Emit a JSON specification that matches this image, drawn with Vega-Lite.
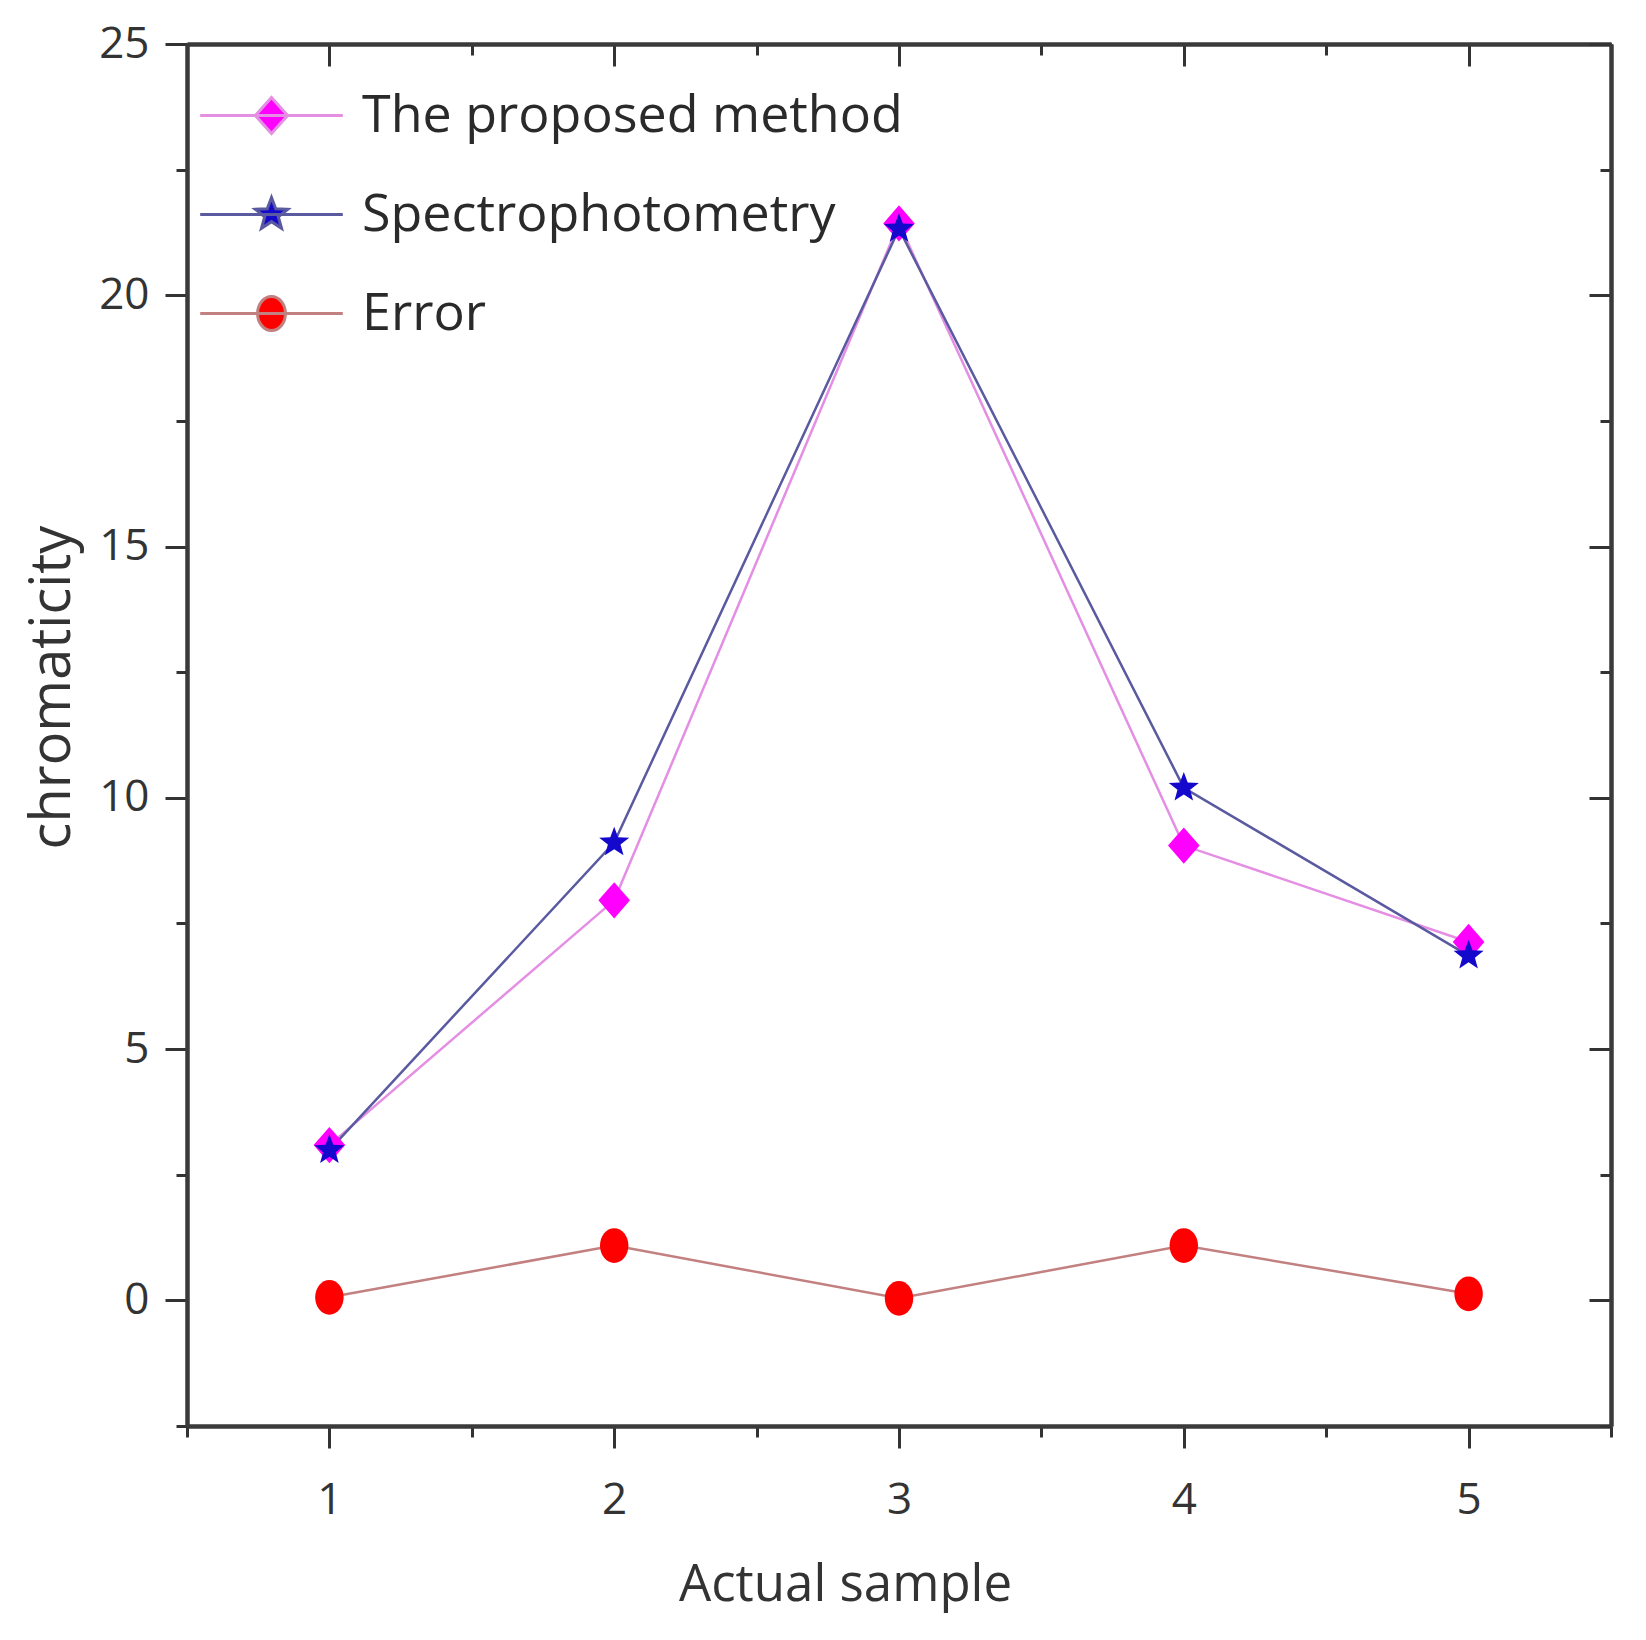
{
  "$schema": "https://vega.github.io/schema/vega-lite/v6.json",
  "description": "Chromaticity of five actual samples: proposed method vs spectrophotometry, with error",
  "width": 1424,
  "height": 1382,
  "autosize": {"type": "none"},
  "padding": {"left": 187, "top": 44, "right": 35, "bottom": 214},
  "background": "white",
  "config": {
    "view": {"stroke": null},
    "axis": {
      "grid": false,
      "domainColor": "#3a3a3a",
      "domainWidth": 4,
      "tickColor": "#333333",
      "tickWidth": 3,
      "labelFont": "Open Sans",
      "labelColor": "#333333",
      "titleFont": "Open Sans",
      "titleColor": "#333333",
      "titleFontWeight": "normal"
    }
  },
  "data": {
    "values": [
      {"series": "The proposed method", "sample": 1, "value": 3.09},
      {"series": "The proposed method", "sample": 2, "value": 7.96},
      {"series": "The proposed method", "sample": 3, "value": 21.43},
      {"series": "The proposed method", "sample": 4, "value": 9.05},
      {"series": "The proposed method", "sample": 5, "value": 7.13},
      {"series": "Spectrophotometry", "sample": 1, "value": 2.99},
      {"series": "Spectrophotometry", "sample": 2, "value": 9.11},
      {"series": "Spectrophotometry", "sample": 3, "value": 21.32},
      {"series": "Spectrophotometry", "sample": 4, "value": 10.2},
      {"series": "Spectrophotometry", "sample": 5, "value": 6.86},
      {"series": "Error", "sample": 1, "value": 0.06},
      {"series": "Error", "sample": 2, "value": 1.09},
      {"series": "Error", "sample": 3, "value": 0.04},
      {"series": "Error", "sample": 4, "value": 1.09},
      {"series": "Error", "sample": 5, "value": 0.13}
    ]
  },
  "resolve": {"axis": {"x": "independent", "y": "independent"}},
  "layer": [
    {
      "description": "Series lines, main bottom and left axes, and the legend",
      "mark": {"type": "line", "strokeWidth": 2.5},
      "encoding": {
        "x": {
          "field": "sample",
          "type": "quantitative",
          "scale": {"domain": [0.5, 5.5], "nice": false, "zero": false},
          "axis": {
            "orient": "bottom",
            "values": [1, 2, 3, 4, 5],
            "tickSize": 22,
            "labelPadding": 30,
            "labelFontSize": 44,
            "title": "Actual sample",
            "titleFontSize": 51,
            "titleX": 658,
            "titleY": 174,
            "titleAlign": "center",
            "titleBaseline": "alphabetic"
          }
        },
        "y": {
          "field": "value",
          "type": "quantitative",
          "scale": {"domain": [-2.5, 25], "nice": false, "zero": false},
          "axis": {
            "orient": "left",
            "values": [0, 5, 10, 15, 20, 25],
            "tickSize": 22,
            "labelPadding": 16,
            "labelFontSize": 44,
            "title": "chromaticity",
            "titleFontSize": 56,
            "titleAngle": 270,
            "titleX": -135,
            "titleY": 643,
            "titleAlign": "center",
            "titleBaseline": "middle"
          }
        },
        "stroke": {
          "field": "series",
          "type": "nominal",
          "scale": {
            "domain": ["The proposed method", "Spectrophotometry", "Error"],
            "range": ["#e48ee4", "#5a5aa0", "#c38080"]
          },
          "legend": {
            "orient": "none",
            "legendX": 52,
            "legendY": 39,
            "title": null,
            "padding": 0,
            "labelFont": "Open Sans",
            "labelFontSize": 52,
            "labelColor": "#2a2a2a",
            "labelOffset": 58,
            "labelLimit": 1000,
            "symbolSize": 3844,
            "symbolStrokeWidth": 3,
            "rowPadding": 40,
            "encoding": {
              "symbols": {
                "shape": {"value": {"expr": "datum.value === 'Error' ? 'M-2.3,0H2.3M-0.45,0A0.45,0.55,0,1,0,0.45,0A0.45,0.55,0,1,0,-0.45,0Z' : datum.value === 'Spectrophotometry' ? 'M-2.3,0H2.3M0,-0.55L0.136,-0.187L0.523,-0.17L0.219,0.071L0.323,0.445L0,0.231L-0.323,0.445L-0.219,0.071L-0.523,-0.17L-0.136,-0.187Z' : 'M-2.3,0H-0.52L0,-0.58L0.52,0H2.3M0.52,0L0,0.58L-0.52,0Z'"}},
                "fill": {"value": {"expr": "datum.value === 'Error' ? '#ff0000' : datum.value === 'Spectrophotometry' ? '#1408cc' : '#ff00ff'"}},
                "strokeWidth": {"value": 3},
                "size": {"value": 3844}
              }
            }
          }
        }
      }
    },
    {
      "description": "Markers and minor ticks on the bottom and left",
      "mark": {"type": "point", "filled": true, "size": 1000, "opacity": 1},
      "encoding": {
        "x": {
          "field": "sample",
          "type": "quantitative",
          "axis": {
            "orient": "bottom",
            "values": [0.5, 1.5, 2.5, 3.5, 4.5, 5.5],
            "tickSize": 11,
            "labels": false,
            "title": null
          }
        },
        "y": {
          "field": "value",
          "type": "quantitative",
          "axis": {
            "orient": "left",
            "values": [-2.5, 2.5, 7.5, 12.5, 17.5, 22.5],
            "tickSize": 11,
            "labels": false,
            "title": null
          }
        },
        "color": {
          "field": "series",
          "type": "nominal",
          "scale": {
            "domain": ["Error", "The proposed method", "Spectrophotometry"],
            "range": ["#ff0000", "#ff00ff", "#1408cc"]
          },
          "legend": null
        },
        "shape": {
          "field": "series",
          "type": "nominal",
          "scale": {
            "domain": ["Error", "The proposed method", "Spectrophotometry"],
            "range": [
              "M-0.9,0A0.9,1.1,0,1,0,0.9,0A0.9,1.1,0,1,0,-0.9,0Z",
              "M0,-1.15L1,0L0,1.15L-1,0Z",
              "M0,-1L0.247,-0.34L0.951,-0.309L0.399,0.13L0.588,0.809L0,0.42L-0.588,0.809L-0.399,0.13L-0.951,-0.309L-0.247,-0.34Z"
            ]
          },
          "legend": null
        }
      }
    },
    {
      "description": "Top and right frame with inward major ticks",
      "mark": {"type": "point", "opacity": 0},
      "encoding": {
        "x": {
          "field": "sample",
          "type": "quantitative",
          "axis": {"orient": "top", "values": [1, 2, 3, 4, 5], "tickSize": -22, "labels": false, "title": null}
        },
        "y": {
          "field": "value",
          "type": "quantitative",
          "axis": {"orient": "right", "values": [0, 5, 10, 15, 20, 25], "tickSize": -22, "labels": false, "title": null}
        }
      }
    },
    {
      "description": "Top and right inward minor ticks",
      "mark": {"type": "point", "opacity": 0},
      "encoding": {
        "x": {
          "field": "sample",
          "type": "quantitative",
          "axis": {"orient": "top", "values": [0.5, 1.5, 2.5, 3.5, 4.5, 5.5], "tickSize": -11, "labels": false, "title": null}
        },
        "y": {
          "field": "value",
          "type": "quantitative",
          "axis": {"orient": "right", "values": [-2.5, 2.5, 7.5, 12.5, 17.5, 22.5], "tickSize": -11, "labels": false, "title": null}
        }
      }
    }
  ]
}
